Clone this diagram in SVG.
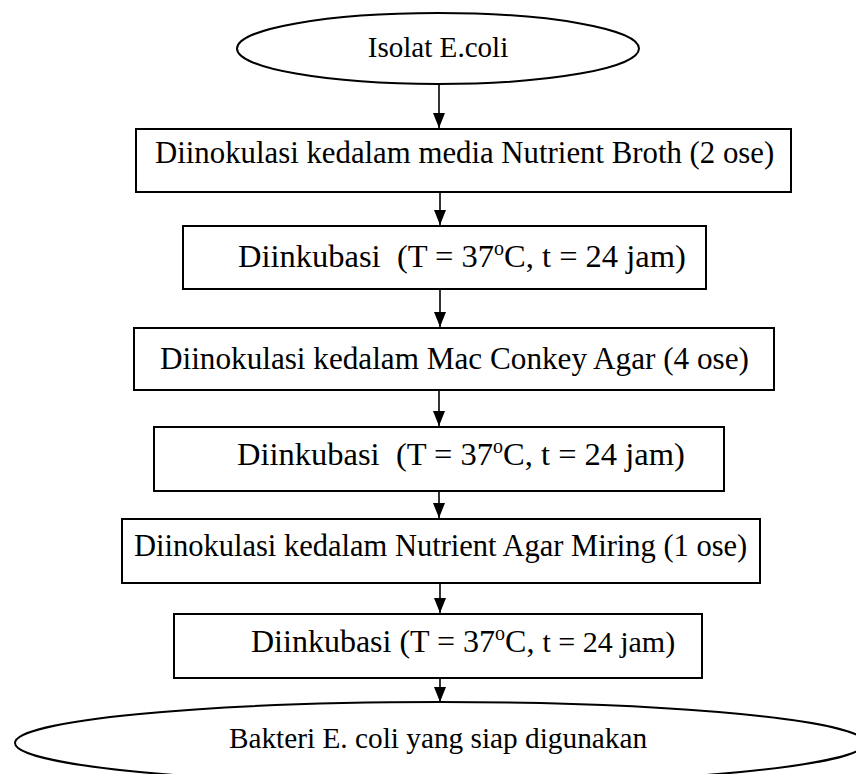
<svg xmlns="http://www.w3.org/2000/svg" width="856" height="774" viewBox="0 0 856 774">
  <style>
    .shape { fill: #ffffff; stroke: #000000; stroke-width: 2; }
    .label { font-family: "Liberation Serif", "Times New Roman", serif; font-size: 30.8px; fill: #000000; white-space: pre; }
    .big { font-size: 32.5px; }
    .sup { font-size: 20px; }
    .flow { stroke: #000000; stroke-width: 1.6; fill: none; marker-end: url(#head); }
  </style>
  <defs>
    <marker id="head" markerWidth="15" markerHeight="12" refX="15" refY="6" orient="auto" markerUnits="userSpaceOnUse" viewBox="0 0 15 12">
      <path d="M0,0 L15,6 L0,12 Z" fill="#000000"/>
    </marker>
  </defs>
  <rect width="856" height="774" fill="#ffffff"/>

  <g id="start">
    <ellipse class="shape" cx="438" cy="48.5" rx="201" ry="35.5"/>
    <text class="label" x="438" y="57" text-anchor="middle" style="font-size:29.1px">Isolat E.coli</text>
  </g>

  <g id="step1">
    <rect class="shape" x="136" y="129" width="655" height="63"/>
    <text class="label" x="155" y="163">Diinokulasi kedalam media Nutrient Broth (2 ose)</text>
  </g>

  <g id="step2">
    <rect class="shape" x="183" y="226" width="523" height="63"/>
    <text class="label big" x="238" y="267">Diinkubasi  (T = 37<tspan class="sup" dy="-12">o</tspan><tspan dy="12">C, t = 24 jam)</tspan></text>
  </g>

  <g id="step3">
    <rect class="shape" x="134" y="328" width="640" height="62"/>
    <text class="label" x="160" y="369" style="font-size:31.2px">Diinokulasi kedalam Mac Conkey Agar (4 ose)</text>
  </g>

  <g id="step4">
    <rect class="shape" x="154" y="427" width="570" height="64"/>
    <text class="label big" x="237" y="465">Diinkubasi  (T = 37<tspan class="sup" dy="-12">o</tspan><tspan dy="12">C, t = 24 jam)</tspan></text>
  </g>

  <g id="step5">
    <rect class="shape" x="122" y="519" width="638" height="64"/>
    <text class="label" x="134" y="556" style="font-size:30.5px">Diinokulasi kedalam Nutrient Agar Miring (1 ose)</text>
  </g>

  <g id="step6">
    <rect class="shape" x="174" y="614" width="528" height="64"/>
    <text class="label" x="251" y="652" style="font-size:32px">Diinkubasi (T = 37<tspan class="sup" dy="-12">o</tspan><tspan dy="12">C, </tspan><tspan style="font-size:30px">t = 24 jam)</tspan></text>
  </g>

  <g id="end">
    <ellipse class="shape" cx="440" cy="743" rx="425" ry="41"/>
    <text class="label" x="438" y="748" text-anchor="middle" style="font-size:29.3px">Bakteri E. coli yang siap digunakan</text>
  </g>

  <g id="connectors">
    <line class="flow" x1="439" y1="84" x2="439" y2="128"/>
    <line class="flow" x1="440" y1="192" x2="440" y2="225"/>
    <line class="flow" x1="440" y1="289" x2="440" y2="327"/>
    <line class="flow" x1="439" y1="390" x2="439" y2="426"/>
    <line class="flow" x1="439" y1="491" x2="439" y2="518"/>
    <line class="flow" x1="440" y1="583" x2="440" y2="613"/>
    <line class="flow" x1="440" y1="678" x2="440" y2="702"/>
  </g>
</svg>
